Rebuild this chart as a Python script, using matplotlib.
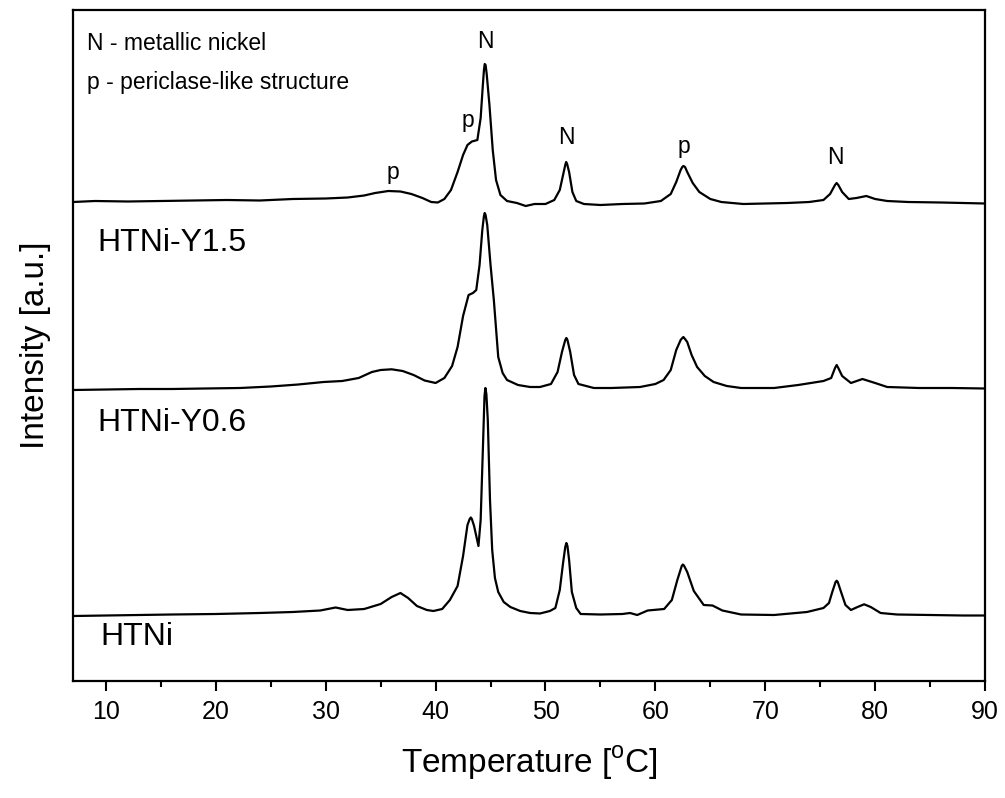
import matplotlib.pyplot as plt
from matplotlib.ticker import MultipleLocator

plt.rcParams['font.family'] = ['Liberation Sans', 'DejaVu Sans']

# 2theta positions and stacked intensities (a.u.)
two_theta_y15 = [7.0, 9, 12, 15, 18, 21, 24, 27, 30, 32, 33.5, 34.5, 35.7, 36.8, 37.8,
                 38.8, 39.6, 40.2, 40.8, 41.4, 42.0, 42.5, 42.9, 43.3, 43.8, 44.1, 44.3,
                 44.4, 44.47, 44.55, 44.65, 44.9, 45.2, 45.5, 45.9, 46.5, 47.4, 48.2, 49.0,
                 50.0, 50.8, 51.3, 51.6, 51.8, 51.88, 51.97, 52.15, 52.45, 52.8, 53.5, 55,
                 57, 59, 60.5, 61.4, 61.9, 62.3, 62.45, 62.55, 62.7, 62.9, 63.4, 64.0,
                 65.0, 66.0, 68.0, 70, 72, 74, 75.3, 75.9, 76.35, 76.5, 76.65, 77.0, 77.6,
                 78.3, 79.2, 80.0, 81.1, 83, 86, 88, 90]
intensity_y15 = [479, 480, 479.5, 480, 480.5, 481, 480.5, 482, 482.5, 483.5, 485.5, 488,
                 490, 489.5, 487, 483, 479, 478.5, 482, 491, 509, 526, 536, 539.5, 541,
                 563, 596, 611, 617, 616, 607, 576, 531, 501, 486, 480, 478, 475, 477,
                 477, 481, 491, 506, 516, 519, 517, 509, 489, 480, 477, 476, 477, 477.5,
                 480, 487, 499, 511, 514, 515, 514, 509, 498, 489, 482, 479, 477, 477.5,
                 478, 479, 481, 487, 496, 498, 496, 489, 482, 483, 485, 482, 480, 479,
                 478.5, 478, 477.5]

two_theta_y06 = [7, 10, 13, 16, 19, 22.2, 25, 27.5, 29.8, 31.5, 33, 34.2, 35.0, 36.0, 37.0,
                 38.0, 39.0, 40.0, 40.8, 41.5, 42.0, 42.5, 43.0, 43.4, 43.7, 44.0, 44.25,
                 44.4, 44.47, 44.55, 44.7, 45.0, 45.3, 45.7, 46.1, 46.5, 47.5, 48.6, 49.5,
                 50.5, 51.1, 51.5, 51.8, 51.9, 52.0, 52.25, 52.6, 53.0, 54.4, 56, 58.6,
                 60.0, 60.75, 61.4, 61.9, 62.3, 62.45, 62.55, 62.7, 62.9, 63.3, 63.8, 64.5,
                 65.3, 66.5, 67.8, 70.8, 73, 75.3, 76.0, 76.35, 76.5, 76.65, 77.0, 77.8,
                 78.85, 80.0, 81.1, 84, 87, 90]
intensity_y06 = [291, 291.5, 292, 292, 292.5, 293, 294.5, 296.5, 299, 300, 303, 309, 311,
                 311.7, 310, 306, 300.5, 298, 303, 315, 334, 365, 386, 388, 391, 416, 451,
                 465, 468, 466, 456, 416, 381, 324, 308, 301, 296, 294, 294, 297, 309, 329,
                 341, 343, 341, 329, 306, 297, 293, 293, 294, 297, 301, 311, 331, 341, 343,
                 344, 342, 339, 326, 314, 305, 299, 295, 293, 293, 296, 300, 303, 313, 316,
                 313, 305, 298, 302, 298, 294, 293, 293, 292.5]

two_theta_htni = [7, 10, 13, 16, 20, 24, 27, 29.5, 30.9, 32, 33.5, 35.0, 36.0, 36.8, 37.5,
                  38.3, 39.2, 39.8, 40.6, 41.3, 42.0, 42.5, 42.9, 43.1, 43.2, 43.3, 43.5,
                  43.9, 44.1, 44.3, 44.45, 44.53, 44.62, 44.75, 44.95, 45.15, 45.4, 45.7,
                  46.2, 46.8, 47.7, 48.6, 49.5, 50.4, 50.9, 51.3, 51.6, 51.8, 51.9, 52.0,
                  52.15, 52.4, 52.8, 53.2, 55, 57, 57.7, 58.35, 59.3, 60.8, 61.5, 62.0,
                  62.4, 62.5, 62.6, 62.9, 63.5, 64.4, 65.2, 66.1, 67.8, 70.8, 73.8, 75.3,
                  75.8, 76.1, 76.4, 76.5, 76.6, 76.9, 77.3, 77.8, 78.4, 79.0, 79.6, 80.5,
                  82, 85, 88, 90]
intensity_htni = [65, 65.5, 66, 66.5, 67, 68, 69, 70.5, 73.5, 71, 72, 77, 84, 88, 83, 75,
                  71, 70, 72, 81, 95, 125, 156, 162, 163.5, 162, 155, 135, 161, 231, 285,
                  293, 287, 261, 181, 131, 103, 89, 79, 74, 70, 68, 67.5, 70, 73, 91, 118,
                  134, 138, 135, 121, 89, 73, 67, 66.5, 67, 68, 66, 70.5, 72, 81, 101, 115,
                  116.5, 115.5, 109, 90, 76, 75.5, 70.5, 66.5, 66, 69, 73, 78, 89, 99,
                  100.3, 99, 89, 76, 71, 74, 76.7, 74, 68, 66.5, 66, 65.5, 65.5]

sample_names = ['HTNi-Y1.5', 'HTNi-Y0.6', 'HTNi']
sample_label_x = [9.25, 9.25, 9.5]
sample_label_y = [438, 258, 44]

peak_letters = ['p', 'p', 'N', 'N', 'p', 'N']
peak_x = [36.1, 42.9, 44.5, 51.9, 62.6, 76.4]
peak_label_y = [509, 561, 639, 544, 534, 523]

legend_lines = ['N - metallic nickel', 'p - periclase-like structure']
legend_y = [638, 598]

fig = plt.figure(figsize=(10.05, 7.98), dpi=100)
ax = fig.add_axes([73 / 1005, 1 - 681 / 798, 912 / 1005, 671 / 798])

for tt, inten in [(two_theta_y15, intensity_y15),
                  (two_theta_y06, intensity_y06),
                  (two_theta_htni, intensity_htni)]:
    ax.plot(tt, inten, color='black', lw=1.6)

for name, x, y in zip(sample_names, sample_label_x, sample_label_y):
    ax.text(x, y, name, fontsize=23, va='center', ha='left')

for letter, x, y in zip(peak_letters, peak_x, peak_label_y):
    ax.text(x, y, letter, fontsize=16.5, ha='center', va='center')

for line, y in zip(legend_lines, legend_y):
    ax.text(8.3, y, line, fontsize=16.5, va='center', ha='left')

ax.set_xlim(7, 90)
ax.set_ylim(0, 671)
ax.xaxis.set_major_locator(MultipleLocator(10))
ax.xaxis.set_minor_locator(MultipleLocator(5))
ax.tick_params(axis='x', which='major', direction='out', length=7, width=1.5,
               labelsize=18, pad=7)
ax.tick_params(axis='x', which='minor', direction='out', length=4.5, width=1.5)
ax.set_yticks([])
for spine in ax.spines.values():
    spine.set_linewidth(1.6)

ax.set_xlabel('Temperature [$^{\\mathregular{o}}$C]', fontsize=24, labelpad=14)
ax.set_ylabel('Intensity [a.u.]', fontsize=24, labelpad=16)

fig.savefig('out.png', dpi=100)
